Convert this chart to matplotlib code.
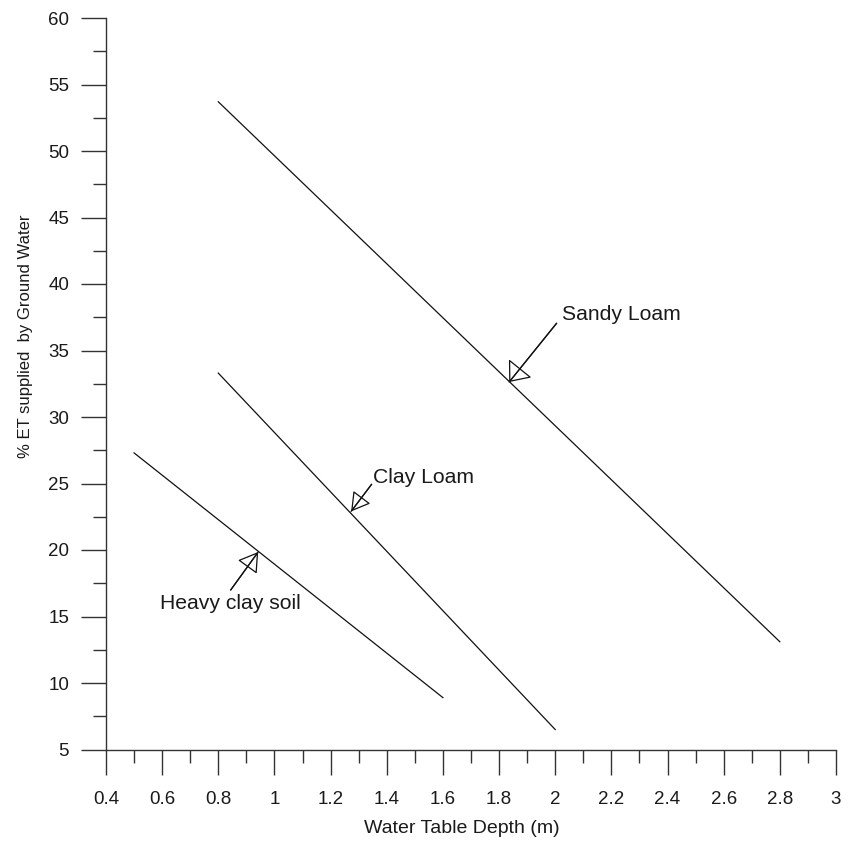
import matplotlib
matplotlib.use("Agg")
import matplotlib.pyplot as plt
import numpy as np

plt.rcParams['font.family'] = ['Liberation Sans', 'DejaVu Sans']

# Data
depth_sandy = [0.8, 2.8]
pct_sandy = [53.7, 13.1]
depth_clay = [0.8, 2.0]
pct_clay = [33.3, 6.5]
depth_heavy = [0.5, 1.6]
pct_heavy = [27.3, 8.9]

labels = ["Sandy Loam", "Clay Loam", "Heavy clay soil"]
label_pos = [(2.023, 37.29), (1.352, 25.01), (0.592, 15.54)]
arrow_tip = [(1.836, 32.63), (1.273, 22.9), (0.942, 19.85)]
arrow_tail = [(2.005, 37.05), (1.346, 24.94), (0.844, 16.99)]
head_sizes = [(1.15, 0.95), (1.15, 0.68), (1.2, 0.75)]

x_major = [0.4, 0.6, 0.8, 1.0, 1.2, 1.4, 1.6, 1.8, 2.0, 2.2, 2.4, 2.6, 2.8, 3.0]
x_ticklabels = ["0.4", "0.6", "0.8", "1", "1.2", "1.4", "1.6", "1.8", "2", "2.2", "2.4", "2.6", "2.8", "3"]
x_minor = [0.5, 0.7, 0.9, 1.1, 1.3, 1.5, 1.7, 1.9, 2.1, 2.3, 2.5, 2.7, 2.9]
y_major = [5, 10, 15, 20, 25, 30, 35, 40, 45, 50, 55, 60]
y_minor = [7.5, 12.5, 17.5, 22.5, 27.5, 32.5, 37.5, 42.5, 47.5, 52.5, 57.5]

fig = plt.figure(figsize=(8.54, 8.41), dpi=100)
ax = fig.add_axes([106/854, 1-749.5/841, 730/854, 731.5/841])

lc = '#111111'
ax.plot(depth_sandy, pct_sandy, color=lc, lw=0.9)
ax.plot(depth_clay, pct_clay, color=lc, lw=0.9)
ax.plot(depth_heavy, pct_heavy, color=lc, lw=0.9)

for lab, pos, tip, tail, hs in zip(labels, label_pos, arrow_tip, arrow_tail, head_sizes):
    ax.text(pos[0], pos[1], lab, fontsize=15.2, color='#1a1a1a', ha='left', va='baseline')
    ax.annotate('', xy=tip, xytext=tail,
                arrowprops=dict(arrowstyle='-', color=lc, lw=0.9, shrinkA=0, shrinkB=0))
    ax.annotate('', xy=tip, xytext=tail,
                arrowprops=dict(arrowstyle='-|>,head_length=%g,head_width=%g' % hs,
                                mutation_scale=10, fc='none', ec=lc, lw=0.9,
                                shrinkA=0, shrinkB=0))

ax.set_xlim(0.4, 3.0)
ax.set_ylim(5, 60)
ax.set_xticks(x_major)
ax.set_xticklabels(x_ticklabels)
ax.set_xticks(x_minor, minor=True)
ax.set_yticks(y_major)
ax.set_yticks(y_minor, minor=True)

for s in ['top', 'right']:
    ax.spines[s].set_visible(False)
for s in ['left', 'bottom']:
    ax.spines[s].set_color('#333333')
    ax.spines[s].set_linewidth(1.0)

ax.tick_params(which='major', length=18, width=1.0, color='#333333', labelsize=13.5,
               labelcolor='#1a1a1a')
ax.tick_params(which='minor', length=9.4, width=1.0, color='#333333')
ax.tick_params(axis='x', which='major', pad=12)
ax.tick_params(axis='y', which='major', pad=8.5)

ax.set_xlabel("Water Table Depth (m)", fontsize=14, color='#1a1a1a')
ax.set_ylabel("% ET supplied  by Ground Water", fontsize=12, color='#1a1a1a')
ax.xaxis.set_label_coords(0.487, -0.097)
ax.yaxis.set_label_coords(-0.1, 0.565)

fig.savefig("out.png", dpi=100)
